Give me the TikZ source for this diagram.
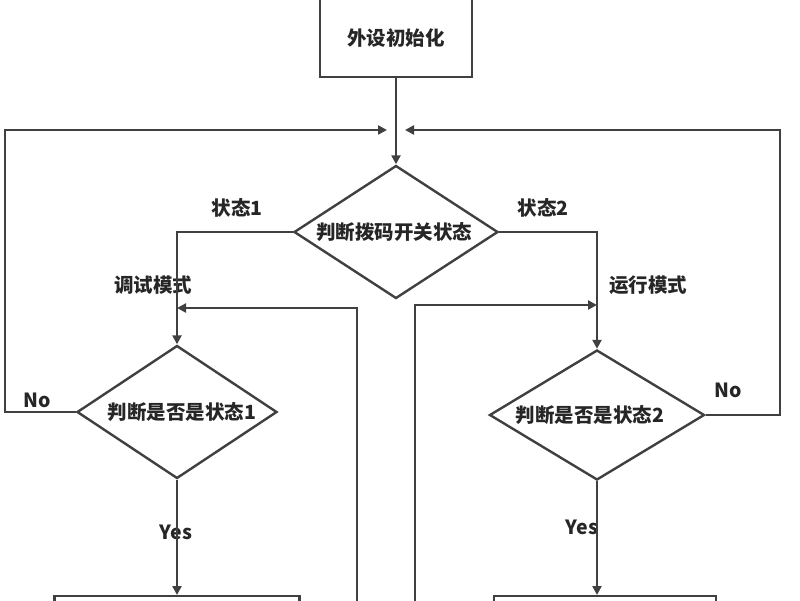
\documentclass[tikz,border=0pt]{standalone}
\usepackage{fontspec}
\newfontfamily\cjk{Noto Sans CJK SC}
\usetikzlibrary{shapes.geometric,arrows.meta}
\begin{document}
\begin{tikzpicture}[x=1pt,y=-1pt,
  ln/.style={draw=black!75,line width=2.4pt},
  ar/.style={ln,-{Triangle[length=9pt,width=9pt]}},
  box/.style={ln,rectangle,inner sep=0pt},
  dia/.style={ln,diamond,inner sep=0pt},
  txt/.style={font=\cjk\fontsize{19.5}{22}\selectfont\bfseries,text=black!85}]
\useasboundingbox (0,0) rectangle (800,600);
\clip (0,0) rectangle (800,600);
% nodes
\node[box,minimum width=152pt,minimum height=90pt] (init) at (396,32) {};
\node[txt] (tinit) at (396,38) {外设初始化};
\node[dia,minimum width=204pt,minimum height=133pt] (d1) at (396,232) {};
\node[txt] at (394,232) {判断拨码开关状态};
\node[dia,minimum width=200pt,minimum height=133pt] (d2) at (177,412) {};
\node[txt] at (182,412) {判断是否是状态1};
\node[dia,minimum width=215pt,minimum height=130pt] (d3) at (597,415) {};
\node[txt] at (590,415) {判断是否是状态2};
\node[box,minimum width=245pt,minimum height=40pt,anchor=north] (b1) at (177,595) {};
\node[box,minimum width=222pt,minimum height=40pt,anchor=north] (b2) at (605,595) {};
% labels
\node[txt] at (237,208) {状态1};
\node[txt] at (543,208) {状态2};
\node[txt] at (153,285) {调试模式};
\node[txt] at (648,285) {运行模式};
\node[txt] at (37,400) {No};
\node[txt] at (728,390) {No};
\node[txt] at (176,532) {Yes};
\node[txt] at (582,527) {Yes};
% coordinates
\coordinate (lt) at (5,130); \coordinate (rt) at (780,130);
\coordinate (lb) at (5,412); \coordinate (rb) at (780,415);
\coordinate (u1) at (357,620); \coordinate (u2) at (415,620);
% connectors
\draw[ar] (init.south) -- (d1.north);
\draw[ar] (d1.west) -| (d2.north);
\draw[ar] (d1.east) -| (d3.north);
\draw[ar] (d2.west) -- (lb) -- (lt) -- (387,130);
\draw[ar] (d3.east) -- (rb) -- (rt) -- (405,130);
\draw[ar] (u1) -- (357,308) -- (177,308);
\draw[ar] (u2) -- (415,305) -- (597,305);
\draw[ar] (d2.south) -- (b1.north);
\draw[ar] (d3.south) -- (597,595);
\end{tikzpicture}
\end{document}
